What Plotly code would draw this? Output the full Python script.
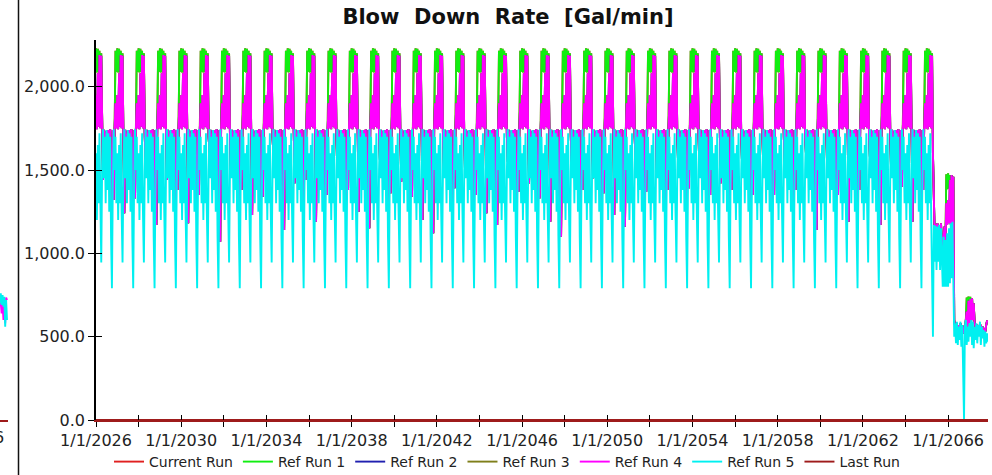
import pandas as pd
import plotly.graph_objects as go

# ---------------- data ----------------
series_names = ["Current Run", "Ref Run 1", "Ref Run 2", "Ref Run 3", "Ref Run 4", "Ref Run 5", "Last Run"]
series_colors = ["#e02020", "#11ee11", "#2020b0", "#7f7f1a", "#ff00ff", "#00f0f0", "#9e1b1b"]

regular_years = list(range(2026, 2065))      # complete yearly cycles
steps_per_year = 24                           # semi-monthly samples (1st and 16th)

# one-year shapes (Jan 1 .. Dec 16), Gal/min
ref5_profile = [1600, 1200, 1650, 1300, 1720, 1250, 945, 1500, 1745, 1450, 1700, 1300,
                1740, 1380, 1720, 1250, 1700, 1100, 790, 1400, 1745, 1500, 1700, 1300]
ref4_profile = [1950, 1745, 2080, 1760, 2190, 1750, 2185, 1700, 1450, 1740, 1700, 1600,
                1735, 1650, 1740, 1500, 1745, 1300, 1400, 1740, 1350, 1745, 1900, 1750]
ref1_profile = [2230, 2085, 2228, 2090, 2215, 1760, 2200, 1700, 1450, 1740, 1700, 1600,
                1735, 1650, 1740, 1500, 1745, 1300, 1400, 1740, 1350, 1745, 2215, 2090]

# lowest value of the spring (mid-April) and autumn (mid-October) drops, per year 2026..2064
spring_drop = [1440, 1240, 1540, 1440, 1180, 1600, 1470, 1230, 1580, 1420, 1190,
               1470, 1250, 1560, 1430, 1200, 1500, 1460, 1240, 1550, 1420, 1190, 1480, 1450, 1230, 1540,
               1460, 1520, 1470, 1420, 1530, 1470, 1540, 1600, 1470, 1190, 1580, 1470, 1190]
autumn_drop = [1320, 1330, 1170, 1380, 1350, 1070, 1380, 1340, 1140, 1440, 1350,
               1380, 1150, 1360, 1340, 1120, 1390, 1350, 1170, 1370, 1330, 1100, 1380, 1360, 1160, 1370,
               1380, 1390, 1350, 1380, 1350, 1350, 1380, 1140, 1350, 1380, 1170, 1400, 1380]

# tail: mid-April 2065 .. mid-November 2067 (semi-monthly)
tail_ref5 = [500, 1170, 950, 1165, 900, 1160, 950, 1170, 900, 1150, 850, 800, 1100, 800, 1080, 800, 1120,
             800, 1150, 820, 1180, 850, 1190, 700, 500, 580, 460, 590, 450, 560, 480, 590, 440,
             570, 200, 0, 560, 600, 450, 560, 470,
             580, 500, 600, 450, 590, 430, 560, 480, 580, 460, 570, 500, 590, 450, 560, 490,
             540, 440, 530, 460, 520, 470]
tail_ref4 = [1600, 1180, 1100, 1175, 1050, 1180, 1000, 1170, 1100, 1180, 1000, 950, 1100, 1160, 1050, 1300, 1170,
             1320, 1180, 1440, 1170, 1470, 1180, 1460, 600, 570, 520, 580, 500, 570, 520, 580, 500,
             570, 520, 560, 540, 600, 650, 560, 715,
             580, 725, 590, 730, 600, 700, 580, 560, 540, 570, 530, 560, 520, 570, 530, 560,
             520, 550, 530, 570, 595, 590]
tail_ref1 = [1600, 1180, 1100, 1175, 1050, 1180, 1000, 1170, 1100, 1180, 1000, 950, 1100, 1160, 1050, 1475, 1385,
             1480, 1390, 1470, 1200, 1470, 1180, 1460, 600, 570, 520, 580, 500, 570, 520, 580, 500,
             570, 520, 560, 540, 600, 735, 700, 740,
             705, 740, 600, 730, 600, 700, 580, 560, 540, 570, 530, 560, 520, 570, 530, 560,
             520, 550, 530, 570, 595, 590]

last_run_dates = ["2026-01-01", "2067-11-16"]
last_run_values = [0.0, 0.0]

# edge of the neighbouring chart visible at the far left
neighbour_dates = ["2067-07-16", "2067-08-01", "2067-08-16", "2067-09-01", "2067-09-16",
                   "2067-10-01", "2067-10-16", "2067-11-01", "2067-11-16"]
neighbour_ref5 = [700, 760, 690, 750, 680, 740, 560, 720, 600]
neighbour_ref4 = [690, 700, 640, 700, 600, 690, 580, 735, 720]

y_ticks = [0, 500, 1000, 1500, 2000]


# ---------------- assemble ----------------
def sm_date(year, k):
    return pd.Timestamp(year=year, month=k // 2 + 1, day=1 if k % 2 == 0 else 16)


dates, ref5, ref4, ref1 = [], [], [], []
for i, yr in enumerate(regular_years):
    dates += [sm_date(yr, k) for k in range(steps_per_year)]
    ref5 += list(ref5_profile)
    m = list(ref4_profile); m[8] = spring_drop[i]; m[20] = autumn_drop[i]
    g = list(ref1_profile); g[8] = spring_drop[i]; g[20] = autumn_drop[i]
    ref4 += m
    ref1 += g
# 2065 winter peak
dates += [sm_date(2065, k) for k in range(7)]
ref5 += ref5_profile[:7]
ref4 += ref4_profile[:7]
ref1 += ref1_profile[:7]
# tail
tail_dates = [sm_date(2065, k) for k in range(7, 24)] + [sm_date(2066, k) for k in range(24)] + \
             [sm_date(2067, k) for k in range(22)]
dates += tail_dates
ref5 += tail_ref5
ref4 += tail_ref4
ref1 += tail_ref1

series_values = {
    "Current Run": ref1,
    "Ref Run 1": ref1,
    "Ref Run 2": ref4,
    "Ref Run 3": ref4,
    "Ref Run 4": ref4,
    "Ref Run 5": ref5,
}

FONT = "DejaVu Sans"
LW = 1.9
fig = go.Figure()
for name, color in zip(series_names, series_colors):
    if name == "Last Run":
        xs, ys = last_run_dates, last_run_values
    else:
        xs, ys = dates, series_values[name]
    fig.add_trace(go.Scatter(x=xs, y=ys, name=name, mode="lines",
                             line=dict(color=color, width=LW), hoverinfo="skip"))

# dummy trace for the overlay axes (inner half of the crossing ticks)
fig.add_trace(go.Scatter(x=[], y=[], xaxis="x2", yaxis="y2", showlegend=False, hoverinfo="skip"))

# neighbouring chart fragment
fig.add_trace(go.Scatter(x=neighbour_dates, y=neighbour_ref4, xaxis="x3", yaxis="y3", mode="lines",
                         line=dict(color=series_colors[4], width=LW), showlegend=False, hoverinfo="skip"))
fig.add_trace(go.Scatter(x=neighbour_dates, y=neighbour_ref5, xaxis="x3", yaxis="y3", mode="lines",
                         line=dict(color=series_colors[5], width=LW), showlegend=False, hoverinfo="skip"))

x_range = ["2026-01-01", "2067-11-16"]
dom = [96 / 992, 988 / 992]
tickfont = dict(family=FONT, size=16, color="#222222")

common_x = dict(type="date", range=x_range, tick0="2026-01-01", dtick="M48", showgrid=False,
                zeroline=False, tickcolor="#000000", tickwidth=1.3, ticklen=5, automargin=False)
fig.update_layout(
    width=992, height=475,
    margin=dict(l=0, r=0, t=40, b=55, autoexpand=False),
    paper_bgcolor="white", plot_bgcolor="white",
    title=dict(text="<b>Blow\u00a0\u00a0Down\u00a0\u00a0Rate\u00a0\u00a0[Gal/min]</b>",
               x=508 / 992, xref="container", xanchor="center",
               y=1 - 17 / 475, yref="container", yanchor="middle",
               font=dict(family=FONT, size=21, color="#111111")),
    xaxis=dict(**common_x, domain=dom, anchor="y", ticks="outside", tickformat="%-m/%-d/%Y",
               tickfont=tickfont, showline=True, linecolor="#9e1b1b", linewidth=1.5,
               minor=dict(dtick="M24", ticks="outside", ticklen=5, tickcolor="#000000",
                          tickwidth=1.3, showgrid=False)),
    xaxis2=dict(**common_x, overlaying="x", anchor="y2", ticks="inside", showticklabels=False,
                showline=False,
                minor=dict(dtick="M24", ticks="inside", ticklen=5, tickcolor="#000000",
                           tickwidth=1.3, showgrid=False)),
    yaxis=dict(domain=[0, 1], range=[0, 2280], tickvals=y_ticks, tickformat=",.1f",
               ticks="outside", ticklen=6, tickcolor="#000000", tickwidth=1.3,
               showline=True, linecolor="#000000", linewidth=1.5, showgrid=False,
               zeroline=False, tickfont=tickfont, anchor="x", automargin=False),
    yaxis2=dict(overlaying="y", range=[0, 2280], tickvals=y_ticks, ticks="inside", ticklen=6,
                tickcolor="#000000", tickwidth=1.3, showticklabels=False, showline=False,
                showgrid=False, zeroline=False, anchor="x2", automargin=False),
    xaxis3=dict(domain=[0, 8 / 992], type="date", range=["2067-07-19", "2067-12-03"],
                showticklabels=False, ticks="", showgrid=False, zeroline=False,
                showline=True, linecolor="#9e1b1b", linewidth=1.5, anchor="y3", automargin=False),
    yaxis3=dict(domain=[0, 1], range=[0, 2280], showticklabels=False, ticks="",
                showgrid=False, zeroline=False, showline=False, anchor="x3", automargin=False),
    legend=dict(orientation="h", x=507 / 992, xanchor="center", y=(420 - 462) / 380,
                yanchor="middle", font=dict(family=FONT, size=14, color="#222222"),
                itemwidth=30, bgcolor="rgba(0,0,0,0)", traceorder="normal"),
    shapes=[dict(type="line", xref="paper", yref="paper", x0=18.5 / 992, x1=18.5 / 992,
                 y0=-55 / 380, y1=1 + 40 / 380, line=dict(color="#111111", width=1.5))],
    annotations=[dict(text="6", xref="paper", yref="paper", x=5.5 / 992, xanchor="right",
                      y=(420 - 437) / 380, yanchor="middle", showarrow=False,
                      font=dict(family=FONT, size=16, color="#222222"))],
)

fig.write_html("out.html")
